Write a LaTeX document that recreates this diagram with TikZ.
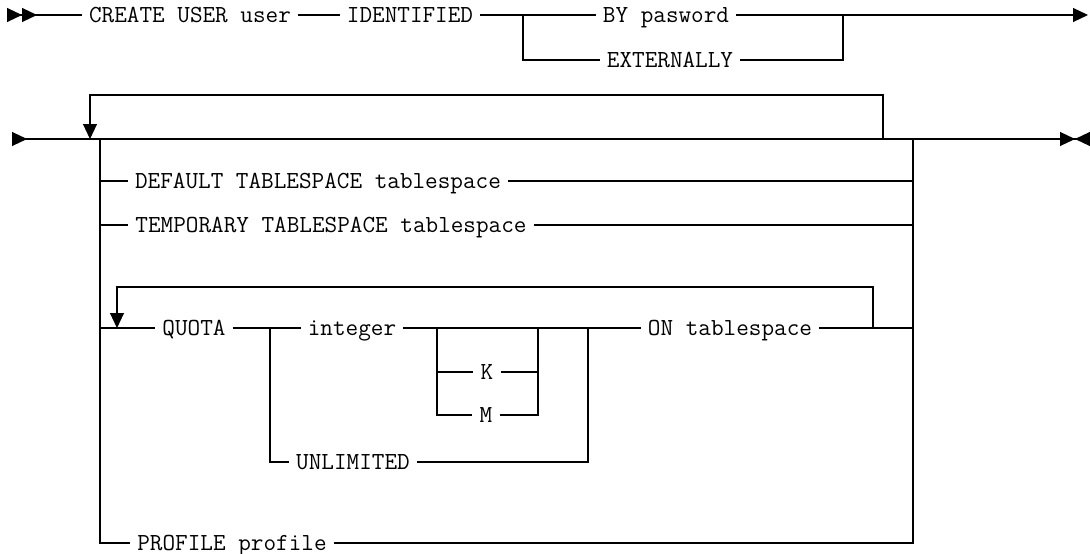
\documentclass[tikz,border=0pt]{standalone}
\usepackage{fontspec}
\usetikzlibrary{arrows.meta}

\begin{document}
\begin{tikzpicture}[x=1pt,y=-1pt,
  kw/.style={font=\ttfamily\fontsize{24.5}{28}\selectfont,
             inner xsep=7pt,inner ysep=0pt,text height=14.5pt,text depth=0pt},
  rail/.style={line width=1.1pt},
  syn/.tip={Triangle[length=15pt,width=14pt]}
]
\useasboundingbox (0,0) rectangle (1090,554);

% first line
\coordinate (s1) at (7,15);
\node[kw] (create) at (190,15) {CREATE USER user};
\node[kw] (ident)  at (410,15) {IDENTIFIED};
\coordinate (bl) at (523,15);
\coordinate (br) at (843,15);
\node[kw] (bypw) at (666,15) {BY pasword};
\node[kw] (ext)  at (670,60) {EXTERNALLY};
\coordinate (e1) at (1088,15);

\draw[rail,{syn[reversed]syn[reversed]}-] (s1) -- (create);
\draw[rail,-{syn[]}] (create) -- (ident) -- (bl) -- (bypw) -- (br) -- (e1);
\draw[rail] (bl) |- (ext) -| (br);

% second line
\coordinate (s2) at (12,139);
\coordinate (ol) at (100,139);
\coordinate (or) at (913,139);
\coordinate (e2) at (1090,139);
\coordinate (lpl) at (90,139);
\coordinate (lpr) at (883,139);

\draw[rail,{syn[reversed]}-{syn[]syn[reversed]}] (s2) -- (e2);
\draw[rail,-{syn[]}] (lpr) -- ++(0,-44) -| (lpl);

\node[kw] (dflt)  at (318,181) {DEFAULT TABLESPACE tablespace};
\node[kw] (temp)  at (331,225) {TEMPORARY TABLESPACE tablespace};
\node[kw] (quota) at (194,328) {QUOTA};
\node[kw] (intg)  at (352,328) {integer};
\node[kw] (kk)    at (487,372) {K};
\node[kw] (mm)    at (486,415) {M};
\node[kw] (unlim) at (353,462) {UNLIMITED};
\node[kw] (ontbs) at (730,328) {ON tablespace};
\node[kw] (prof)  at (232,543) {PROFILE profile};

\draw[rail] (ol) |- (dflt) -| (or);
\draw[rail] (ol) |- (temp) -| (or);
\draw[rail] (ol) |- (prof) -| (or);

% quota group
\coordinate (qla) at (117,328);
\coordinate (qbl) at (270,328);
\coordinate (kbl) at (437,328);
\coordinate (kbr) at (538,328);
\coordinate (qbr) at (588,328);
\coordinate (qlr) at (873,328);
\coordinate (qr)  at (913,328);

\draw[rail] (ol) |- (quota) -- (qbl) -- (intg) -- (kbl) -- (kbr) -- (qbr)
  -- (ontbs) -- (qr);
\draw[rail] (kbl) |- (kk) -| (kbr);
\draw[rail] (kbl) |- (mm) -| (kbr);
\draw[rail] (qbl) |- (unlim) -| (qbr);
\draw[rail,-{syn[]}] (qlr) -- ++(0,-41) -| (qla);
\end{tikzpicture}
\end{document}
